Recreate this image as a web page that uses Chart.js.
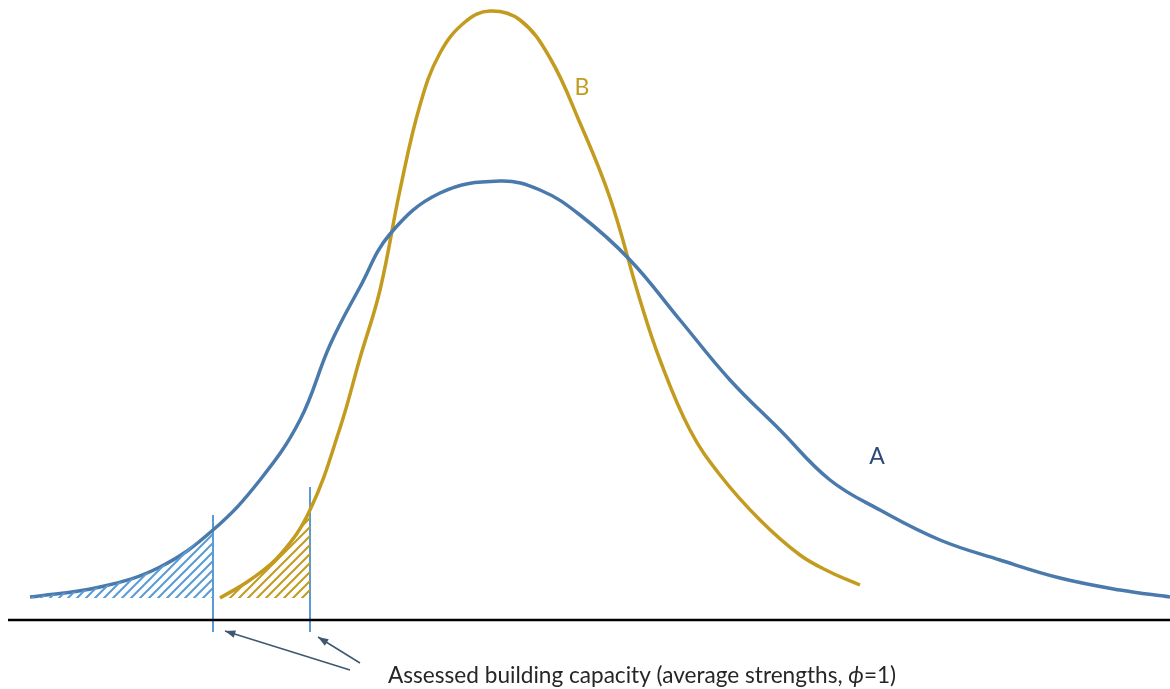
<!DOCTYPE html>
<html>
<head>
<meta charset="utf-8">
<script src="https://cdn.jsdelivr.net/npm/chart.js@4.4.1/dist/chart.umd.min.js"></script>
<style>
  html, body { margin: 0; padding: 0; background: #fff; }
  #wrap { width: 1170px; height: 689px; position: relative; }
</style>
</head>
<body>
<div id="wrap"><canvas id="chart"></canvas></div>
<script>
// strength (x) and probability density (y)
var strengthA = [3, 10, 16, 21.3, 26, 30, 33, 36, 39, 44, 50, 54, 58, 63, 68, 73, 78, 83, 88, 94, 100, 106, 112, 117];
var densityA  = [0.23, 0.33, 0.53, 0.90, 1.40, 2.00, 2.75, 3.33, 3.86, 4.27, 4.39, 4.30, 4.05, 3.60, 3.00, 2.40, 1.90, 1.40, 1.10, 0.80, 0.60, 0.42, 0.30, 0.23];

var strengthB = [22, 25, 28, 31, 34, 36, 38, 40, 42, 44, 46.5, 49, 52, 55, 58, 61, 64, 66, 69, 72, 76, 80, 83, 86];
var densityB  = [0.22, 0.40, 0.65, 1.10, 1.92, 2.62, 3.30, 4.30, 5.15, 5.67, 5.98, 6.09, 6.00, 5.62, 4.97, 4.22, 3.20, 2.60, 1.90, 1.45, 1.00, 0.65, 0.48, 0.35];

// assessed capacity for each building and where the tails stop
var capacityA = 21.3;
var capacityB = 31;
var tailBase = 0.22;

var labelA = "A";
var labelB = "B";
var noteText = ["Assessed building capacity (average strengths, ", "\u03D5", "=1)"];

var blue = "#4a7aab";
var gold = "#c39b1e";
var lightBlue = "#5b9bd5";

function pts(xs, ys, upTo) {
  var out = [];
  for (var i = 0; i < xs.length; i++) {
    if (upTo == null || xs[i] <= upTo) out.push({x: xs[i], y: ys[i]});
  }
  return out;
}

function hatch(color) {
  var c = document.createElement("canvas");
  c.width = 9; c.height = 9;
  var g = c.getContext("2d");
  g.strokeStyle = color;
  g.lineWidth = 2;
  g.beginPath();
  g.moveTo(-2, 11); g.lineTo(11, -2);
  g.moveTo(-11, 11); g.lineTo(2, -2);
  g.moveTo(7, 11); g.lineTo(20, -2);
  g.stroke();
  return g.createPattern(c, "repeat");
}

var annotations = {
  id: "annotations",
  afterDatasetsDraw: function(chart) {
    var ctx = chart.ctx;
    var xs = chart.scales.x, ys = chart.scales.y;
    ctx.save();

    // arrows pointing at the capacity lines
    var arrows = [
      {from: [35, -0.50], to: [22.5, -0.11]},
      {from: [36, -0.43], to: [31.8, -0.17]}
    ];
    ctx.strokeStyle = "#3f5770";
    ctx.fillStyle = "#3f5770";
    ctx.lineWidth = 1.5;
    arrows.forEach(function(a) {
      var x1 = xs.getPixelForValue(a.from[0]), y1 = ys.getPixelForValue(a.from[1]);
      var x2 = xs.getPixelForValue(a.to[0]), y2 = ys.getPixelForValue(a.to[1]);
      ctx.beginPath(); ctx.moveTo(x1, y1); ctx.lineTo(x2, y2); ctx.stroke();
      var ang = Math.atan2(y2 - y1, x2 - x1);
      ctx.beginPath();
      ctx.moveTo(x2, y2);
      ctx.lineTo(x2 - 11 * Math.cos(ang - 0.35), y2 - 11 * Math.sin(ang - 0.35));
      ctx.lineTo(x2 - 11 * Math.cos(ang + 0.35), y2 - 11 * Math.sin(ang + 0.35));
      ctx.closePath(); ctx.fill();
    });

    // note text
    ctx.fillStyle = "#262626";
    ctx.textBaseline = "alphabetic";
    var tx = xs.getPixelForValue(38.8), ty = ys.getPixelForValue(-0.625);
    ctx.font = "22.6px Lato";
    ctx.fillText(noteText[0], tx, ty);
    tx += ctx.measureText(noteText[0]).width;
    ctx.font = "italic 22.6px Lato";
    ctx.fillText(noteText[1], tx, ty);
    tx += ctx.measureText(noteText[1]).width;
    ctx.font = "22.6px Lato";
    ctx.fillText(noteText[2], tx, ty);

    // curve labels
    ctx.font = "23px Lato";
    ctx.textAlign = "center";
    ctx.textBaseline = "middle";
    ctx.fillStyle = gold;
    ctx.fillText(labelB, xs.getPixelForValue(58.2), ys.getPixelForValue(5.32));
    ctx.fillStyle = "#2d4a78";
    ctx.fillText(labelA, xs.getPixelForValue(87.7), ys.getPixelForValue(1.63));
    ctx.restore();
  }
};

var curve = {pointRadius: 0, tension: 0.4};

new Chart(document.getElementById("chart"), {
  type: "line",
  data: {
    datasets: [
      Object.assign({
        data: pts(strengthA, densityA, capacityA),
        borderWidth: 0,
        backgroundColor: hatch(lightBlue),
        fill: {value: tailBase}
      }, curve),
      Object.assign({
        data: pts(strengthB, densityB, capacityB),
        borderWidth: 0,
        backgroundColor: hatch(gold),
        fill: {value: tailBase}
      }, curve),
      Object.assign({
        data: pts(strengthA, densityA),
        borderColor: blue,
        borderWidth: 3.5,
        fill: false
      }, curve),
      Object.assign({
        data: pts(strengthB, densityB),
        borderColor: gold,
        borderWidth: 3.5,
        fill: false
      }, curve),
      {
        data: [{x: 0.8, y: 0}, {x: 117, y: 0}],
        borderColor: "#000",
        borderWidth: 2.5,
        pointRadius: 0,
        fill: false
      },
      {
        data: [{x: capacityA, y: -0.12}, {x: capacityA, y: 1.05}],
        borderColor: lightBlue,
        borderWidth: 2,
        pointRadius: 0,
        fill: false
      },
      {
        data: [{x: capacityB, y: -0.12}, {x: capacityB, y: 1.33}],
        borderColor: lightBlue,
        borderWidth: 2,
        pointRadius: 0,
        fill: false
      }
    ]
  },
  options: {
    responsive: true,
    maintainAspectRatio: false,
    animation: false,
    layout: {padding: 0},
    plugins: {legend: {display: false}, tooltip: {enabled: false}},
    scales: {
      x: {type: "linear", min: 0, max: 117, display: false},
      y: {type: "linear", min: -0.69, max: 6.2, display: false}
    }
  },
  plugins: [annotations]
});
</script>
</body>
</html>
